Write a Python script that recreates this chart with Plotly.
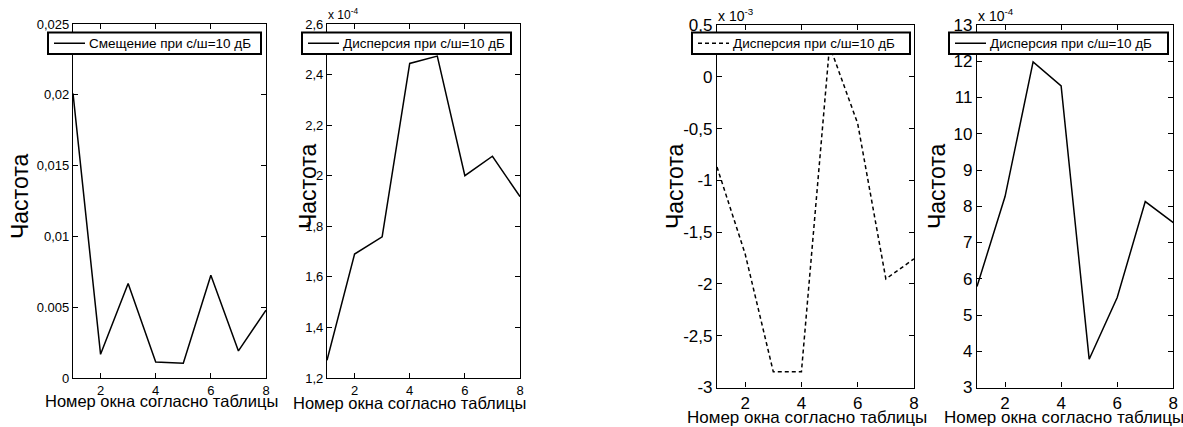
import plotly.graph_objects as go

# ---- data ----
windows = [1, 2, 3, 4, 5, 6, 7, 8]
bias_10db = [0.0201, 0.00167, 0.00667, 0.00113, 0.00104, 0.00726, 0.00191, 0.00479]
disp_a_10db = [1.27e-4, 1.69e-4, 1.758e-4, 2.444e-4, 2.473e-4, 2.00e-4, 2.077e-4, 1.917e-4]
disp_b_10db = [-0.871e-3, -1.71e-3, -2.848e-3, -2.848e-3, 0.30e-3, -0.452e-3, -1.952e-3, -1.758e-3]
disp_c_10db = [5.785e-4, 8.267e-4, 11.98e-4, 11.32e-4, 3.781e-4, 5.482e-4, 8.129e-4, 7.55e-4]

x_ticks = [2, 4, 6, 8]
y1_ticks = [0, 0.005, 0.01, 0.015, 0.02, 0.025]
y1_text = ["0", "0.005", "0,01", "0,015", "0,02", "0,025"]
y2_ticks = [1.2e-4, 1.4e-4, 1.6e-4, 1.8e-4, 2.0e-4, 2.2e-4, 2.4e-4, 2.6e-4]
y2_text = ["1,2", "1,4", "1,6", "1,8", "2", "2,2", "2,4", "2,6"]
y3_ticks = [-3e-3, -2.5e-3, -2e-3, -1.5e-3, -1e-3, -0.5e-3, 0, 0.5e-3]
y3_text = ["-3", "-2,5", "-2", "-1,5", "-1", "-0,5", "0", "0,5"]
y4_ticks = [k * 1e-4 for k in range(3, 14)]
y4_text = [str(k) for k in range(3, 14)]

label_bias = "Смещение при с/ш=10 дБ"
label_disp = "Дисперсия при с/ш=10 дБ"
x_title = "Номер окна согласно таблицы"
y_title = "Частота"

W, H = 1183, 427
FONT = "Liberation Sans, Arial, sans-serif"
DASH = "4px,3px"


def px_x(p):
    return p / W


def px_y(p):
    return 1 - p / H


series = [
    (bias_10db, label_bias, "solid"),
    (disp_a_10db, label_disp, "solid"),
    (disp_b_10db, label_disp, DASH),
    (disp_c_10db, label_disp, "solid"),
]

fig = go.Figure()
for i, (vals, name, dash) in enumerate(series, start=1):
    sx = "" if i == 1 else str(i)
    fig.add_trace(go.Scatter(x=windows, y=vals, mode="lines", name=name,
                             line=dict(color="black", width=1.5, dash=dash),
                             xaxis="x" + sx, yaxis="y" + sx, showlegend=False))

panels = [
    # (x0, x1, ytop, ybottom, yticks, ytext, yrange, tickfont)
    (73, 266, 24, 378, y1_ticks, y1_text, [0, 0.025], 13),
    (327, 520, 24, 378, y2_ticks, y2_text, [1.2e-4, 2.6e-4], 13),
    (717, 914, 25, 387.5, y3_ticks, y3_text, [-3e-3, 0.5e-3], 17),
    (977, 1173.3, 25, 387.5, y4_ticks, y4_text, [3e-4, 13e-4], 17),
]

layout = dict(
    width=W, height=H,
    margin=dict(l=0, r=0, t=0, b=0, autoexpand=False),
    paper_bgcolor="white", plot_bgcolor="white",
    font=dict(family=FONT, color="black"),
    showlegend=False,
)

for i, (x0, x1, yt, yb, yt_vals, yt_text, yr, tf) in enumerate(panels, start=1):
    sx = "" if i == 1 else str(i)
    common = dict(showline=True, linecolor="black", linewidth=1.2, mirror="ticks",
                  ticks="inside", ticklen=5, tickcolor="black", tickwidth=1,
                  showgrid=False, zeroline=False, automargin=False,
                  tickfont=dict(family=FONT, size=tf, color="black"))
    layout["xaxis" + sx] = dict(domain=[px_x(x0), px_x(x1)], range=[1, 8],
                                tickvals=x_ticks, ticktext=[str(v) for v in x_ticks],
                                anchor="y" + sx, **common)
    layout["yaxis" + sx] = dict(domain=[px_y(yb), px_y(yt)], range=yr,
                                tickvals=yt_vals, ticktext=yt_text,
                                anchor="x" + sx, **common)

fig.update_layout(**layout)

# ---- legend boxes (one per panel, MATLAB style) ----
legend_boxes = [(48, 261), (302, 511), (692, 910), (949, 1168)]
LEG_TOP, LEG_BOT = 32.5, 54
shapes = []
annotations = []
for (bx0, bx1), (vals, name, dash) in zip(legend_boxes, series):
    shapes.append(dict(type="rect", xref="paper", yref="paper", layer="above",
                       x0=px_x(bx0), x1=px_x(bx1), y0=px_y(LEG_BOT), y1=px_y(LEG_TOP),
                       fillcolor="white", line=dict(color="black", width=2)))
    ymid = (LEG_TOP + LEG_BOT) / 2
    shapes.append(dict(type="line", xref="paper", yref="paper", layer="above",
                       x0=px_x(bx0 + 6), x1=px_x(bx0 + 37), y0=px_y(ymid), y1=px_y(ymid),
                       line=dict(color="black", width=1.5, dash=dash)))
    annotations.append(dict(text=name, x=px_x(bx0 + 39), y=px_y(ymid), xref="paper",
                            yref="paper", showarrow=False, xanchor="left", yanchor="middle",
                            font=dict(family=FONT, size=13.5, color="black")))

# y axis titles
for (cx, cy) in [(20, 197), (308, 187), (675, 187), (937, 187)]:
    annotations.append(dict(text=y_title, x=px_x(cx), y=px_y(cy), xref="paper", yref="paper",
                            textangle=-90, showarrow=False, xanchor="center", yanchor="middle",
                            font=dict(family=FONT, size=23, color="black")))
# x axis titles
for (cx, cy, fs) in [(161.5, 401, 16.5), (409, 403, 16.5), (807.5, 417, 17), (1064, 417, 17)]:
    annotations.append(dict(text=x_title, x=px_x(cx), y=px_y(cy), xref="paper", yref="paper",
                            showarrow=False, xanchor="center", yanchor="middle",
                            font=dict(family=FONT, size=fs, color="black")))
# exponent multipliers
for (lx, cy, exp, fs) in [(326, 14, "-4", 12), (716, 15, "-3", 14), (976, 15, "-4", 14)]:
    annotations.append(dict(text="x 10<sup>%s</sup>" % exp, x=px_x(lx), y=px_y(cy),
                            xref="paper", yref="paper", showarrow=False,
                            xanchor="left", yanchor="middle",
                            font=dict(family=FONT, size=fs, color="black")))

fig.update_layout(shapes=shapes, annotations=annotations)

fig.write_html("out.html", config={"displayModeBar": False},
               post_script="document.body.style.margin='0px';")
